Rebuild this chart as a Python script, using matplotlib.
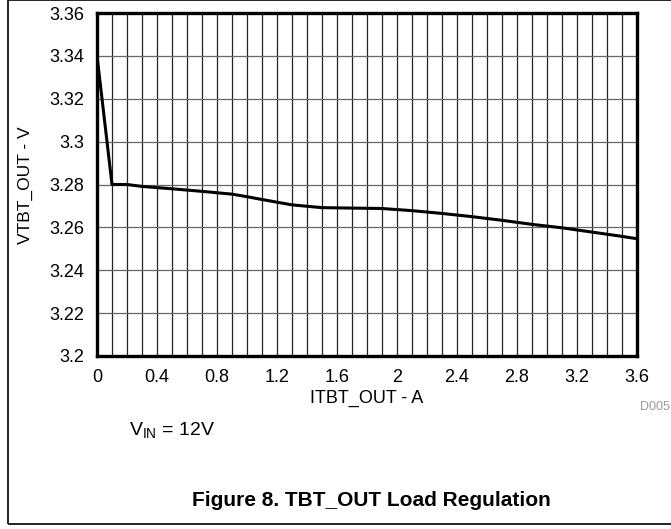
import numpy as np
import matplotlib
matplotlib.use('Agg')
import matplotlib.pyplot as plt
from matplotlib.patches import Rectangle

plt.rcParams['font.family'] = ['Liberation Sans', 'DejaVu Sans']

# load current (A) and output voltage (V)
i_out = [0.0, 0.1, 0.2, 0.3, 0.5, 0.7, 0.9, 1.0, 1.1, 1.3, 1.5, 1.7,
         1.9, 2.1, 2.3, 2.5, 2.7, 2.9, 3.1, 3.3, 3.5, 3.6]
v_out = [3.34, 3.28, 3.28, 3.2791, 3.278, 3.2768, 3.2755, 3.2743, 3.273,
         3.2705, 3.2692, 3.269, 3.2688, 3.2678, 3.2665, 3.265, 3.2633,
         3.2614, 3.2598, 3.2578, 3.2558, 3.2547]

x_ticks = [0, 0.4, 0.8, 1.2, 1.6, 2, 2.4, 2.8, 3.2, 3.6]
x_tick_labels = ['0', '0.4', '0.8', '1.2', '1.6', '2', '2.4', '2.8', '3.2', '3.6']
y_ticks = [3.2, 3.22, 3.24, 3.26, 3.28, 3.3, 3.32, 3.34, 3.36]
y_tick_labels = ['3.2', '3.22', '3.24', '3.26', '3.28', '3.3', '3.32', '3.34', '3.36']

W, H = 671, 529
fig = plt.figure(figsize=(W / 100, H / 100), dpi=100)
ax = fig.add_axes([97 / W, 1 - 356 / H, 540 / W, 343 / H])

# full grid: every 0.1 A vertically, every 0.02 V horizontally
for x in np.arange(0.1, 3.6, 0.1):
    ax.axvline(x, color='#222222', lw=0.9, zorder=1)
for y in y_ticks[1:-1]:
    ax.axhline(y, color='#666666', lw=0.9, zorder=1)

ax.plot(i_out, v_out, color='black', lw=2.2, zorder=3)

ax.set_xlim(0, 3.6)
ax.set_ylim(3.2, 3.36)
ax.set_xticks(x_ticks)
ax.set_xticklabels(x_tick_labels)
ax.set_yticks(y_ticks)
ax.set_yticklabels(y_tick_labels)
ax.tick_params(length=0, labelsize=13)
ax.tick_params(axis='x', pad=9)
ax.tick_params(axis='y', pad=9)
for s in ax.spines.values():
    s.set_linewidth(2.4)

ax.set_xlabel('ITBT_OUT - A', fontsize=13, va='center')
ax.xaxis.set_label_coords(0.5, (356 - 398) / 343)
ax.set_ylabel('VTBT_OUT - V', fontsize=12.5, va='center')
ax.yaxis.set_label_coords((25 - 97) / 540, (356 - 185) / 343)

fig.text(640 / W, 1 - 407 / H, 'D005', fontsize=9, color='#999999',
         ha='left', va='center')
fig.text(129 / W, 1 - 431 / H, r'V$_{\mathregular{IN}}$ = 12V', fontsize=14,
         ha='left', va='center')
fig.text(371 / W, 1 - 500 / H, 'Figure 8. TBT_OUT Load Regulation',
         fontsize=15, fontweight='bold', ha='center', va='center')

# outer frame of the figure box
fig.patches.append(Rectangle((8 / W, 1 - 524 / H), 700 / W, 524 / H,
                             transform=fig.transFigure, fill=False,
                             edgecolor='black', lw=1.2))

fig.savefig('out.png', dpi=100)
